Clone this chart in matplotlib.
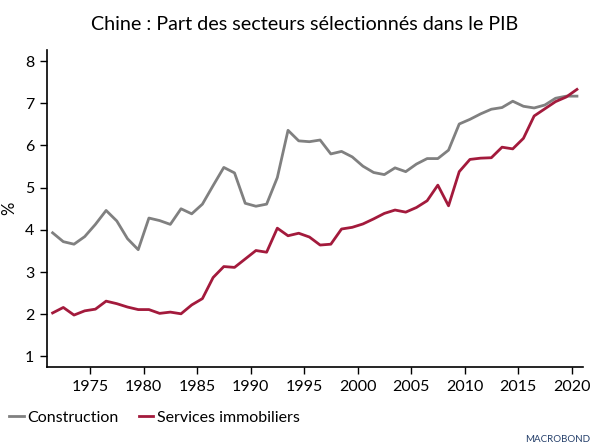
import numpy as np
import matplotlib.pyplot as plt

plt.rcParams['font.family'] = ['Lato', 'DejaVu Sans']

# Annual data, 1971-2020 (% of GDP)
years = np.arange(1971, 2021)
construction = [3.93, 3.72, 3.66, 3.84, 4.13, 4.46, 4.21, 3.79, 3.53, 4.28,
                4.22, 4.13, 4.50, 4.38, 4.61, 5.05, 5.48, 5.35, 4.63, 4.56,
                4.61, 5.24, 6.36, 6.11, 6.09, 6.13, 5.80, 5.86, 5.73, 5.51,
                5.36, 5.31, 5.47, 5.38, 5.56, 5.69, 5.69, 5.89, 6.51, 6.62,
                6.75, 6.86, 6.90, 7.05, 6.93, 6.89, 6.96, 7.12, 7.17, 7.17]
immobilier = [2.03, 2.16, 1.98, 2.08, 2.12, 2.31, 2.25, 2.17, 2.11, 2.11,
              2.02, 2.05, 2.01, 2.22, 2.37, 2.87, 3.13, 3.11, 3.31, 3.51,
              3.47, 4.04, 3.86, 3.92, 3.83, 3.64, 3.66, 4.02, 4.06, 4.14,
              4.26, 4.39, 4.47, 4.42, 4.53, 4.69, 5.06, 4.57, 5.38, 5.67,
              5.70, 5.71, 5.96, 5.92, 6.17, 6.70, 6.87, 7.04, 7.15, 7.33]
xticks = [1975, 1980, 1985, 1990, 1995, 2000, 2005, 2010, 2015, 2020]

fig = plt.figure(figsize=(5.99, 4.48), dpi=100)
ax = fig.add_axes([0.078, 0.180, 0.895, 0.708])

# points sit at mid-year
x = years + 0.5
ax.plot(x, construction, color='#808080', lw=2.0, label='Construction')
ax.plot(x, immobilier, color='#a31a3c', lw=2.0, label='Services immobiliers')

ax.set_xlim(1970.95, 2021.05)
ax.set_ylim(0.74, 8.26)
ax.set_xticks(xticks)
ax.set_yticks(range(1, 9))
ax.tick_params(labelsize=11.5, length=5, width=1, pad=4)
ax.spines['top'].set_visible(False)
ax.spines['right'].set_visible(False)
ax.spines['left'].set_linewidth(1.2)
ax.spines['bottom'].set_linewidth(1.2)
ax.set_ylabel('%', fontsize=12)
ax.yaxis.set_label_coords(-0.055, 0.5)

fig.text(0.509, 0.945, 'Chine : Part des secteurs sélectionnés dans le PIB',
         ha='center', va='center', fontsize=14.2)

fig.legend(loc='center left', bbox_to_anchor=(0.005, 0.067), ncol=2,
           frameon=False, fontsize=11.5, handlelength=0.9, handletextpad=0.2,
           columnspacing=1.3, borderaxespad=0)

fig.text(0.985, 0.018, 'MACROBOND', ha='right', va='center',
         fontsize=7, color='#26406b')

fig.savefig('out.png', dpi=100)
